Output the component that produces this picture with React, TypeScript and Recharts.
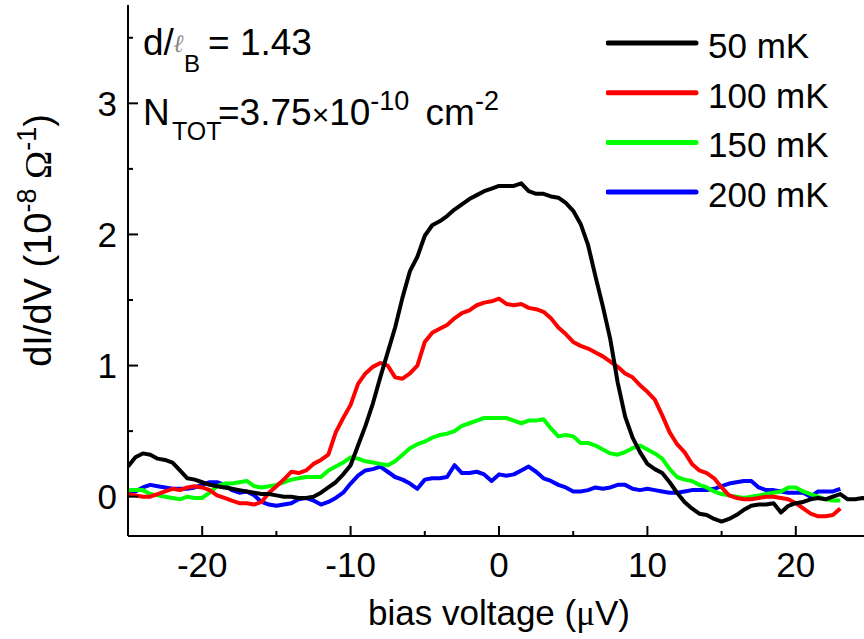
import { LineChart, Line, XAxis, YAxis, Legend } from "recharts";

// ── Data ────────────────────────────────────────────────────────────────────

// bias voltage in µV, 0.5 µV steps
const voltages = [
  -25, -24.5, -24, -23.5, -23, -22.5, -22, -21.5, -21, -20.5,
  -20, -19.5, -19, -18.5, -18, -17.5, -17, -16.5, -16, -15.5,
  -15, -14.5, -14, -13.5, -13, -12.5, -12, -11.5, -11, -10.5,
  -10, -9.5, -9, -8.5, -8, -7.5, -7, -6.5, -6, -5.5,
  -5, -4.5, -4, -3.5, -3, -2.5, -2, -1.5, -1, -0.5,
  0, 0.5, 1, 1.5, 2, 2.5, 3, 3.5, 4, 4.5,
  5, 5.5, 6, 6.5, 7, 7.5, 8, 8.5, 9, 9.5,
  10, 10.5, 11, 11.5, 12, 12.5, 13, 13.5, 14, 14.5,
  15, 15.5, 16, 16.5, 17, 17.5, 18, 18.5, 19, 19.5,
  20, 20.5, 21, 21.5, 22, 22.5, 23, 23.5, 24, 24.5,
  25,
];

// dI/dV in 10^-8 Ω^-1
const mK50 = [
  0.23, 0.30, 0.33, 0.32, 0.29, 0.28, 0.26, 0.20, 0.14, 0.13,
  0.11, 0.09, 0.08, 0.07, 0.06, 0.05, 0.04, 0.03, 0.02, 0.02,
  0.01, 0.00, 0.00, -0.01, -0.01, 0.00, 0.03, 0.07, 0.11, 0.17,
  0.24, 0.39, 0.54, 0.71, 0.91, 1.10, 1.29, 1.52, 1.72, 1.83,
  1.99, 2.07, 2.10, 2.14, 2.19, 2.23, 2.27, 2.30, 2.33, 2.35,
  2.37, 2.37, 2.37, 2.39, 2.33, 2.31, 2.31, 2.29, 2.28, 2.24,
  2.18, 2.08, 1.92, 1.68, 1.45, 1.20, 0.87, 0.61, 0.45, 0.34,
  0.25, 0.21, 0.18, 0.11, 0.03, -0.04, -0.09, -0.13, -0.14, -0.17,
  -0.19, -0.17, -0.14, -0.10, -0.07, -0.06, -0.06, -0.05, -0.12, -0.07,
  -0.05, -0.04, -0.02, -0.01, -0.02, 0.00, 0.02, -0.02, -0.02, -0.01,
  -0.03,
];

const mK100 = [
  0.02, 0.01, 0.00, 0.00, 0.02, 0.04, 0.06, 0.05, 0.07, 0.08,
  0.07, 0.05, 0.01, -0.01, -0.03, -0.05, -0.05, -0.06, -0.04, 0.03,
  0.08, 0.13, 0.19, 0.18, 0.20, 0.25, 0.28, 0.32, 0.49, 0.60,
  0.70, 0.86, 0.94, 0.99, 1.02, 1.00, 0.91, 0.90, 0.94, 1.00,
  1.18, 1.25, 1.28, 1.31, 1.36, 1.40, 1.42, 1.46, 1.48, 1.49,
  1.51, 1.47, 1.46, 1.47, 1.44, 1.43, 1.41, 1.36, 1.29, 1.24,
  1.18, 1.15, 1.13, 1.10, 1.07, 1.03, 0.99, 0.94, 0.91, 0.85,
  0.80, 0.74, 0.62, 0.49, 0.40, 0.34, 0.25, 0.20, 0.18, 0.14,
  0.07, 0.01, -0.01, -0.02, -0.02, -0.01, 0.00, 0.00, -0.01, -0.02,
  -0.05, -0.09, -0.13, -0.15, -0.15, -0.14, -0.09,
];

const mK150 = [
  0.05, 0.05, 0.05, 0.02, 0.01, 0.00, -0.01, -0.02, 0.00, -0.01,
  -0.01, 0.03, 0.08, 0.10, 0.10, 0.11, 0.12, 0.08, 0.07, 0.08,
  0.09, 0.11, 0.13, 0.14, 0.15, 0.15, 0.15, 0.20, 0.23, 0.26,
  0.30, 0.29, 0.27, 0.26, 0.25, 0.24, 0.27, 0.32, 0.37, 0.40,
  0.42, 0.45, 0.47, 0.48, 0.50, 0.54, 0.56, 0.58, 0.60, 0.60,
  0.60, 0.60, 0.58, 0.56, 0.58, 0.58, 0.59, 0.52, 0.46, 0.47,
  0.46, 0.41, 0.41, 0.39, 0.36, 0.33, 0.32, 0.34, 0.37, 0.39,
  0.36, 0.33, 0.29, 0.21, 0.15, 0.13, 0.12, 0.09, 0.07, 0.04,
  0.02, 0.01, 0.00, -0.01, 0.00, 0.01, 0.02, 0.03, 0.04, 0.07,
  0.07, 0.04, 0.02, 0.00, -0.02, -0.03, -0.03,
];

const mK200 = [
  0.04, 0.04, 0.07, 0.09, 0.08, 0.07, 0.06, 0.06, 0.06, 0.07,
  0.09, 0.11, 0.11, 0.09, 0.05, 0.03, 0.04, 0.01, -0.04, -0.06,
  -0.07, -0.06, -0.05, -0.02, -0.01, -0.03, -0.06, -0.04, -0.01, 0.03,
  0.10, 0.16, 0.20, 0.21, 0.23, 0.19, 0.15, 0.13, 0.10, 0.06,
  0.13, 0.14, 0.14, 0.15, 0.24, 0.18, 0.18, 0.19, 0.17, 0.12,
  0.17, 0.16, 0.17, 0.20, 0.23, 0.19, 0.14, 0.12, 0.09, 0.07,
  0.04, 0.04, 0.05, 0.07, 0.06, 0.07, 0.09, 0.09, 0.06, 0.05,
  0.06, 0.05, 0.04, 0.03, 0.03, 0.04, 0.05, 0.05, 0.05, 0.06,
  0.08, 0.10, 0.11, 0.12, 0.12, 0.07, 0.05, 0.05, 0.04, 0.03,
  0.03, 0.03, 0.00, 0.04, 0.04, 0.04, 0.06,
];

const xTicks = [-20, -15, -10, -5, 0, 5, 10, 15, 20];
const yTicks = [0, 0.5, 1, 1.5, 2, 2.5, 3, 3.5];

const series = [
  { key: "k50", name: "50 mK", color: "#000000" },
  { key: "k100", name: "100 mK", color: "#ff0000" },
  { key: "k150", name: "150 mK", color: "#00ff00" },
  { key: "k200", name: "200 mK", color: "#0000ff" },
];

const data = voltages.map((v, i) => ({
  v,
  k50: mK50[i] ?? null,
  k100: mK100[i] ?? null,
  k150: mK150[i] ?? null,
  k200: mK200[i] ?? null,
}));

// ── Styling helpers ─────────────────────────────────────────────────────────

const FONT = "'Liberation Sans', Arial, sans-serif";
const SERIF = "'Liberation Serif', 'Times New Roman', serif";
const FS = 35;

const isMajorX = (v: number) => v % 10 === 0;
const isMajorY = (v: number) => Number.isInteger(v);

// ticks point inward; tickSize = 0 so x/y handed in sit on the axis line
function BottomTick(props: any) {
  const { x, y, payload } = props;
  const major = isMajorX(payload.value);
  return (
    <g>
      <line x1={x} y1={y} x2={x} y2={y - (major ? 10 : 5)} stroke="#000" strokeWidth={2} />
      {major && (
        <text x={x} y={y + 41} textAnchor="middle" fontFamily={FONT} fontSize={FS} fill="#000">
          {payload.value}
        </text>
      )}
    </g>
  );
}

function TopTick(props: any) {
  const { x, y, payload } = props;
  const major = isMajorX(payload.value);
  return <line x1={x} y1={y} x2={x} y2={y + (major ? 10 : 5)} stroke="#000" strokeWidth={2} />;
}

function LeftTick(props: any) {
  const { x, y, payload } = props;
  const major = isMajorY(payload.value);
  return (
    <g>
      <line x1={x} y1={y} x2={x + (major ? 10 : 5)} y2={y} stroke="#000" strokeWidth={2} />
      {major && (
        <text x={x - 11} y={y + 12.5} textAnchor="end" fontFamily={FONT} fontSize={FS} fill="#000">
          {payload.value}
        </text>
      )}
    </g>
  );
}

function RightTick(props: any) {
  const { x, y, payload } = props;
  const major = isMajorY(payload.value);
  return <line x1={x} y1={y} x2={x - (major ? 10 : 5)} y2={y} stroke="#000" strokeWidth={2} />;
}

function XTitle(props: any) {
  const { x, y, width } = props.viewBox;
  return (
    <text x={x + width / 2} y={y + 89} textAnchor="middle" fontFamily={FONT} fontSize={FS} fill="#000">
      bias voltage (<tspan fontFamily={SERIF}>μ</tspan>V)
    </text>
  );
}

function YTitle(props: any) {
  const { y, height } = props.viewBox;
  const cy = y + height / 2 - 30;
  return (
    <text transform={`translate(51, ${cy}) rotate(-90)`} textAnchor="middle" fontFamily={FONT} fontSize={38} fill="#000">
      dI/dV (10
      <tspan dy={-15} fontSize={27}>-8</tspan>
      <tspan dy={15} fontFamily={SERIF}> Ω</tspan>
      <tspan dy={-15} fontSize={27}>-1</tspan>
      <tspan dy={15}>)</tspan>
    </text>
  );
}

function LegendBox() {
  return (
    <svg width={250} height={200}>
      {series.map((s, i) => {
        const ly = 25 + i * 49.7;
        return (
          <g key={s.key}>
            <line x1={2} y1={ly} x2={90} y2={ly} stroke={s.color} strokeWidth={5} strokeLinecap="round" />
            <text x={102} y={ly + 15} fontFamily={FONT} fontSize={FS} fill="#000">{s.name}</text>
          </g>
        );
      })}
    </svg>
  );
}

// ── Chart ───────────────────────────────────────────────────────────────────

export default function App() {
  const drawOrder = [...series].reverse();
  return (
    <div style={{ position: "absolute", left: 0, top: 0, width: 864, height: 639, overflow: "hidden", background: "#fff" }}>
      <LineChart width={900} height={639} data={data} margin={{ top: 5, right: 30, bottom: 0, left: 0 }}>
        <XAxis
          dataKey="v" type="number" domain={[-25, 25]} allowDataOverflow
          ticks={xTicks} interval={0} height={103}
          tickSize={0} tickMargin={0} tickLine={false}
          axisLine={{ stroke: "#000", strokeWidth: 2 }}
          tick={(p: any) => <BottomTick {...p} />}
          label={(p: any) => <XTitle {...p} />}
        />
        <XAxis
          xAxisId="top" orientation="top" dataKey="v" type="number" domain={[-25, 25]} allowDataOverflow
          ticks={xTicks} interval={0} height={0}
          tickSize={0} tickMargin={0} tickLine={false}
          axisLine={{ stroke: "#000", strokeWidth: 2 }}
          tick={(p: any) => <TopTick {...p} />}
        />
        <YAxis
          type="number" domain={[-0.3, 3.75]} allowDataOverflow
          ticks={yTicks} interval={0} width={128}
          tickSize={0} tickMargin={0} tickLine={false}
          axisLine={{ stroke: "#000", strokeWidth: 2 }}
          tick={(p: any) => <LeftTick {...p} />}
          label={(p: any) => <YTitle {...p} />}
        />
        <YAxis
          yAxisId="right" orientation="right" type="number" domain={[-0.3, 3.75]} allowDataOverflow
          ticks={yTicks} interval={0} width={0}
          tickSize={0} tickMargin={0} tickLine={false}
          axisLine={{ stroke: "#000", strokeWidth: 2 }}
          tick={(p: any) => <RightTick {...p} />}
        />
        {drawOrder.map((s) => (
          <Line
            key={s.key} dataKey={s.key} name={s.name} type="linear"
            stroke={s.color} strokeWidth={4} strokeLinejoin="round"
            dot={false} activeDot={false} isAnimationActive={false}
          />
        ))}
        <Legend
          layout="vertical" align="center" verticalAlign="middle"
          wrapperStyle={{ position: "absolute", left: 606, top: 18, width: 250, height: 200 }}
          content={() => <LegendBox />}
        />
      </LineChart>

      <svg width={864} height={639} style={{ position: "absolute", left: 0, top: 0, pointerEvents: "none" }}>
        <g fontFamily={FONT} fontSize={37} fill="#000">
          <text x={143} y={55}>d/</text>
          <text x={173} y={52} fontFamily={SERIF} fontStyle="italic" fontSize={25} fill="#8a8a8a">ℓ</text>
          <text x={184} y={72} fontSize={24}>B</text>
          <text x={208} y={55}>= 1.43</text>
          <text x={143} y={125}>N</text>
          <text x={172} y={140} fontSize={25}>TOT</text>
          <text x={218} y={125}>
            =3.75<tspan fontSize={30}>×</tspan>10
            <tspan dy={-15} fontSize={27}>-10</tspan>
            <tspan dy={15} dx={6}> cm</tspan>
            <tspan dy={-15} fontSize={27}>-2</tspan>
          </text>
        </g>
      </svg>
    </div>
  );
}
